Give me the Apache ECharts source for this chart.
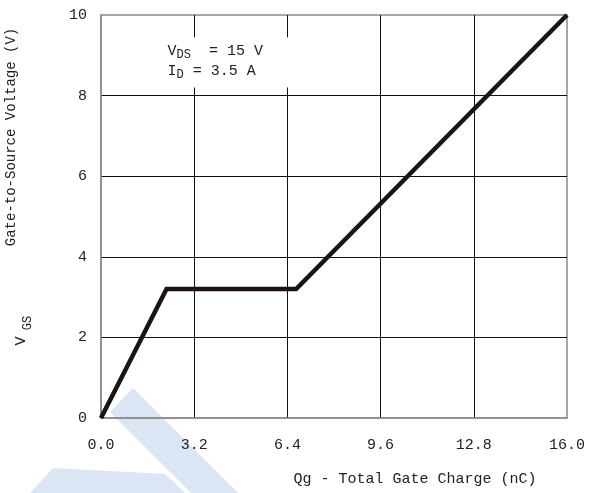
<!DOCTYPE html>
<html>
<head>
<meta charset="utf-8">
<script src="https://cdn.jsdelivr.net/npm/echarts@6/dist/echarts.min.js"></script>
<style>
  html, body { margin: 0; padding: 0; background: #fff; }
  #chart { width: 593px; height: 493px; }
</style>
</head>
<body>
<div id="chart"></div>
<script>
// Gate charge curve: V_GS versus total gate charge Qg
const chargeNC = [0, 2.25, 6.7, 16];      // Qg (nC)
const gateVolts = [0, 3.2, 3.2, 10];      // V_GS (V)

const xTicks = { min: 0, max: 16, step: 3.2 };
const yTicks = { min: 0, max: 10, step: 2 };

const testVds = '15 V';
const testId = '3.5 A';

const MONO = '"Liberation Mono", "DejaVu Sans Mono", monospace';
const TEXT = '#222';

const chart = echarts.init(document.getElementById('chart'), null, { renderer: 'canvas' });

const points = chargeNC.map((q, i) => [q, gateVolts[i]]);

chart.setOption({
  animation: false,
  grid: {
    left: 101, right: 26, top: 15, bottom: 75,
    show: true, borderColor: '#8a8a8a', borderWidth: 1.5, backgroundColor: 'transparent'
  },
  xAxis: {
    type: 'value',
    min: xTicks.min, max: xTicks.max, interval: xTicks.step,
    axisLine: { show: true, lineStyle: { color: '#8a8a8a', width: 1.5 } },
    axisTick: { show: false },
    axisLabel: {
      margin: 20, fontFamily: MONO, fontSize: 15, color: TEXT,
      formatter: v => v.toFixed(1)
    },
    splitLine: { show: true, showMinLine: false, showMaxLine: false, lineStyle: { color: '#111', width: 1 } }
  },
  yAxis: {
    type: 'value',
    min: yTicks.min, max: yTicks.max, interval: yTicks.step,
    axisLine: { show: true, lineStyle: { color: '#8a8a8a', width: 1.5 } },
    axisTick: { show: false },
    axisLabel: { margin: 14, fontFamily: MONO, fontSize: 15, color: TEXT },
    splitLine: { show: true, showMinLine: false, showMaxLine: false, lineStyle: { color: '#111', width: 1 } }
  },
  series: [{
    type: 'line',
    data: points,
    showSymbol: false,
    symbol: 'none',
    lineStyle: { color: '#1c1412', width: 4.5, join: 'miter' },
    z: 3,
    markArea: {
      silent: true,
      itemStyle: { color: '#fff', borderWidth: 0 },
      label: {
        show: true,
        position: [20, 4],
        formatter: '{m|V}{s|DS}{m|  = ' + testVds + '}\n{m|I}{s|D}{m| = ' + testId + '}',
        rich: {
          m: { fontFamily: MONO, fontSize: 15, color: TEXT, lineHeight: 20 },
          s: { fontFamily: MONO, fontSize: 12, color: TEXT, lineHeight: 20, verticalAlign: 'bottom' }
        }
      },
      data: [[{ xAxis: 1.6, yAxis: 9.45 }, { xAxis: 7.0, yAxis: 8.2 }]]
    }
  }],
  graphic: [
    // pale watermark shapes behind the plot
    {
      type: 'polygon', z: -10, silent: true,
      shape: { points: [[110, 412], [133, 388], [238, 493], [191, 493]] },
      style: { fill: '#dbe5f4' }
    },
    {
      type: 'polygon', z: -10, silent: true,
      shape: { points: [[53, 468], [165, 474], [185, 493], [30, 493]] },
      style: { fill: '#dbe5f4' }
    },
    // axis titles
    {
      type: 'text', x: 11, y: 137, rotation: Math.PI / 2,
      style: { text: 'Gate-to-Source Voltage (V)', font: '14px ' + MONO, fill: TEXT, align: 'center', verticalAlign: 'middle' }
    },
    {
      type: 'text', x: 21, y: 341, rotation: Math.PI / 2,
      style: { text: 'V', font: '15px ' + MONO, fill: TEXT, align: 'center', verticalAlign: 'middle' }
    },
    {
      type: 'text', x: 28, y: 323, rotation: Math.PI / 2,
      style: { text: 'GS', font: '12px ' + MONO, fill: TEXT, align: 'center', verticalAlign: 'middle' }
    },
    {
      type: 'text', x: 415, y: 479,
      style: { text: 'Qg - Total Gate Charge (nC)', font: '15px ' + MONO, fill: TEXT, align: 'center', verticalAlign: 'middle' }
    }
  ]
});
</script>
</body>
</html>
